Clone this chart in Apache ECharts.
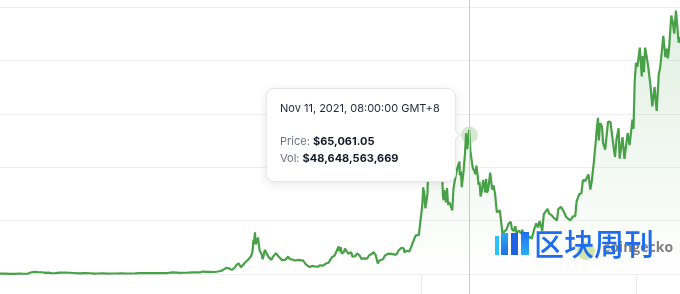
<!DOCTYPE html>
<html><head><meta charset="utf-8">
<script src="https://cdn.jsdelivr.net/npm/echarts@6/dist/echarts.min.js"></script>
<style>html,body{margin:0;padding:0;background:#fff;}#c{width:680px;height:294px;}</style>
</head><body><div id="c"></div>
<script>
const dates = [
'2013-04-28','2013-06-01','2013-07-05','2013-08-01','2013-09-01','2013-10-01','2013-11-01','2013-11-18','2013-11-30','2013-12-10','2013-12-18',
'2014-01-05','2014-02-01','2014-02-25','2014-03-15','2014-04-10','2014-05-01','2014-06-03','2014-07-01','2014-08-01','2014-09-01','2014-10-05','2014-11-12','2014-12-15',
'2015-01-14','2015-02-01','2015-03-10','2015-04-15','2015-05-15','2015-06-15','2015-07-12','2015-08-20','2015-09-15','2015-10-15','2015-11-04','2015-11-15','2015-12-15',
'2016-01-15','2016-02-15','2016-03-15','2016-04-15','2016-05-15','2016-06-17','2016-07-15','2016-08-02','2016-09-01','2016-10-01','2016-11-01','2016-12-01','2016-12-20',
'2017-01-04','2017-01-12','2017-02-01','2017-02-20','2017-03-03','2017-03-24','2017-04-15','2017-05-01','2017-05-15','2017-05-25','2017-06-11','2017-06-20','2017-07-01','2017-07-16','2017-08-01','2017-08-17','2017-09-01','2017-09-14','2017-10-01','2017-10-12','2017-10-20','2017-11-01','2017-11-08','2017-11-12','2017-11-20','2017-11-28','2017-12-01','2017-12-07','2017-12-10','2017-12-17','2017-12-22','2017-12-28',
'2018-01-06','2018-01-12','2018-01-17','2018-01-22','2018-02-01','2018-02-06','2018-02-12','2018-02-20','2018-03-05','2018-03-18','2018-03-25','2018-04-06','2018-04-15','2018-05-05','2018-05-20','2018-06-01','2018-06-15','2018-06-28','2018-07-08','2018-07-17','2018-07-25','2018-08-05','2018-08-14','2018-08-25','2018-09-05','2018-09-10','2018-09-20','2018-10-01','2018-10-15','2018-11-01','2018-11-14','2018-11-20','2018-11-25','2018-12-01','2018-12-15','2018-12-24',
'2019-01-01','2019-01-15','2019-02-07','2019-02-24','2019-03-15','2019-04-02','2019-04-20','2019-05-01','2019-05-14','2019-05-30','2019-06-10','2019-06-26','2019-07-02','2019-07-10','2019-07-17','2019-08-01','2019-08-07','2019-08-29','2019-09-18','2019-09-26','2019-10-15','2019-10-26','2019-11-10','2019-11-25','2019-12-10','2019-12-18',
'2020-01-01','2020-01-15','2020-02-01','2020-02-13','2020-02-28','2020-03-07','2020-03-12','2020-03-20','2020-04-01','2020-04-15','2020-04-30','2020-05-10','2020-05-20','2020-06-01','2020-06-15','2020-07-01','2020-07-15','2020-07-28','2020-08-17','2020-09-01','2020-09-05','2020-09-20','2020-10-08','2020-10-21','2020-11-05','2020-11-18','2020-11-26','2020-12-01','2020-12-10','2020-12-17','2020-12-24',
'2021-01-02','2021-01-08','2021-01-11','2021-01-14','2021-01-22','2021-01-28','2021-02-05','2021-02-09','2021-02-15','2021-02-21','2021-02-28','2021-03-05','2021-03-13','2021-03-18','2021-03-25','2021-04-01','2021-04-14','2021-04-18','2021-04-25','2021-05-03','2021-05-09','2021-05-12','2021-05-19','2021-05-23','2021-05-27','2021-06-08','2021-06-15','2021-06-22','2021-07-01','2021-07-08','2021-07-20','2021-07-28','2021-08-05','2021-08-14','2021-08-22','2021-09-06','2021-09-08','2021-09-15','2021-09-21','2021-09-28','2021-10-03','2021-10-12','2021-10-20','2021-10-27','2021-11-03','2021-11-09','2021-11-11','2021-11-18','2021-11-24','2021-11-28','2021-12-04','2021-12-14','2021-12-20','2021-12-27',
'2022-01-05','2022-01-10','2022-01-17','2022-01-24','2022-02-01','2022-02-10','2022-02-24','2022-03-02','2022-03-07','2022-03-15','2022-03-29','2022-04-11','2022-04-20','2022-04-30','2022-05-12','2022-05-20','2022-06-01','2022-06-13','2022-06-18','2022-07-01','2022-07-15','2022-07-30','2022-08-13','2022-08-20','2022-09-01','2022-09-12','2022-09-20','2022-10-05','2022-10-20','2022-10-29','2022-11-09','2022-11-20','2022-12-01','2022-12-15','2022-12-30',
'2023-01-08','2023-01-15','2023-01-29','2023-02-10','2023-02-20','2023-03-10','2023-03-20','2023-04-01','2023-04-14','2023-04-25','2023-05-10','2023-05-25','2023-06-15','2023-06-25','2023-07-13','2023-07-30','2023-08-17','2023-09-11','2023-09-30','2023-10-15','2023-10-24','2023-11-10','2023-11-25','2023-12-05','2023-12-20',
'2024-01-01','2024-01-11','2024-01-23','2024-02-01','2024-02-15','2024-02-29','2024-03-05','2024-03-14','2024-03-20','2024-03-28','2024-04-10','2024-04-17','2024-05-01','2024-05-20','2024-06-05','2024-06-24','2024-07-05','2024-07-15','2024-07-29','2024-08-05','2024-08-24','2024-09-06','2024-09-27','2024-10-10','2024-10-29','2024-11-05','2024-11-13','2024-11-22','2024-12-01','2024-12-17','2024-12-30',
'2025-01-06','2025-01-13','2025-01-21','2025-01-31','2025-02-10','2025-02-25','2025-03-10','2025-03-25','2025-04-08','2025-04-22','2025-05-01','2025-05-12','2025-05-22','2025-06-05','2025-06-15','2025-06-22','2025-07-01','2025-07-14','2025-07-25','2025-08-03','2025-08-14','2025-08-22','2025-09-01','2025-09-10'
];
const prices = [
135,129,79,105,140,125,205,700,1130,1000,520,
900,820,530,630,360,450,660,640,590,480,320,420,345,
180,225,290,220,237,235,310,230,230,255,400,320,450,
380,400,415,430,455,750,665,540,575,615,730,750,800,
1150,780,985,1060,1280,940,1180,1420,1720,2450,2950,2700,2500,1930,2720,4300,4900,3200,4400,5400,6000,6700,7400,5900,8200,9800,10900,16000,14000,19500,13800,14500,
17100,13500,11000,11400,9100,6900,8500,11300,11500,7900,8700,6600,8000,9800,8400,7500,6500,5900,6700,7300,8200,7000,6200,6700,7300,6300,6400,6600,6400,6350,5600,4500,3900,4200,3250,4000,
3800,3600,3400,4100,3900,4900,5300,5350,8000,8600,7700,12900,10600,12500,9500,10400,11900,9500,10200,8100,8400,9600,8800,7100,7300,6600,
7200,8800,9350,10300,8700,9100,4900,6200,6600,6900,8700,8700,9500,10200,9400,9100,9200,11000,12300,11900,10200,10900,10600,12800,15600,18000,17100,18800,18300,22800,23200,
32200,40600,35500,39200,30800,33300,37500,46500,48500,57500,45200,48500,61000,58500,51800,58800,63500,56200,49000,57000,58200,49500,36700,34600,39300,33600,40200,32500,33500,32800,29800,40000,40800,47100,49300,52600,46300,48100,40700,41000,48200,56000,65900,58500,62900,67500,65061.05,56900,57100,57300,49400,48300,46700,50700,
45900,41800,43100,36300,38700,44000,38300,44400,38100,39300,47400,39500,41500,37700,28900,29200,29800,22400,19000,19300,20800,23700,24400,21100,20100,22400,19000,20300,19100,20800,15900,16300,17000,17400,16500,
17200,20900,23700,21800,24800,20200,28000,28500,30500,28300,27600,26300,25100,30500,31400,29300,26600,25100,27000,27100,34000,37300,37800,44000,43600,
44200,46600,39500,43000,52000,62500,67000,73100,62500,70700,69000,61300,58200,71400,71100,60300,54800,63000,68200,54000,64100,53900,66000,60300,72300,68000,90000,99000,97000,106000,92500,
102000,94500,106000,102000,97500,88700,78500,87500,76300,93500,96500,104000,111500,101500,105500,100900,107000,121000,117600,112500,123300,116900,108300,111000
];
const yTicks = [0, 25000, 50000, 75000, 100000, 125000];
const xTickDates = ['2020-12-29', '2024-11-20'];
const hlDate = '2021-11-11';
const hlPrice = 65061.05;
const hlTitle = 'Nov 11, 2021, 08:00:00 GMT+8';
const hlPriceText = '$65,061.05';
const hlVolText = '$48,648,563,669';

const W = 680, H = 294, gTop = 7, gBottom = 20;
const plotH = H - gTop - gBottom;
const yMax = yTicks[yTicks.length - 1];
const perPx = yMax / plotH;
const fullMin = -gBottom * perPx, fullMax = yMax + gTop * perPx;

const series = dates.map((d, i) => [d, prices[i]]);
const xMin = dates[0], xMax = dates[dates.length - 1];

const chart = echarts.init(document.getElementById('c'), null, {renderer: 'canvas'});
chart.setOption({
  animation: false,
  grid: [
    {left: 0, right: 0, top: 0, bottom: 0},
    {left: 0, right: 0, top: gTop, bottom: gBottom}
  ],
  xAxis: [
    {gridIndex: 0, type: 'time', min: xMin, max: xMax, show: true,
     axisLine: {show: false}, axisTick: {show: false}, axisLabel: {show: false}, splitLine: {show: false},
     axisPointer: {show: true, value: hlDate, status: 'show', type: 'line', triggerTooltip: false,
       lineStyle: {color: '#c9c9c9', width: 1, type: 'solid'}, label: {show: false}}},
    {gridIndex: 1, type: 'time', min: xMin, max: xMax,
     axisLine: {show: false}, axisLabel: {show: false}, splitLine: {show: false},
     axisTick: {show: true, customValues: xTickDates, length: 20, lineStyle: {color: '#ebebeb', width: 1}}}
  ],
  yAxis: [
    {gridIndex: 0, type: 'value', min: fullMin, max: fullMax, show: false, splitLine: {show: false}},
    {gridIndex: 1, type: 'value', min: 0, max: yMax, interval: 25000,
     axisLine: {show: false}, axisTick: {show: false}, axisLabel: {show: false},
     splitLine: {show: true, lineStyle: {color: '#efefef', width: 1}}}
  ],
  tooltip: {
    trigger: 'item', triggerOn: 'none', alwaysShowContent: true, position: 'left',
    backgroundColor: '#ffffff', borderColor: '#e6e6e6', borderWidth: 1,
    padding: [11, 15, 14, 13],
    extraCssText: 'border-radius:8px;box-shadow:0 2px 10px rgba(0,0,0,0.10);',
    formatter: function () {
      return '<div style="font-family:Inter,\'Noto Sans\',sans-serif;font-size:11px;line-height:17px;">' +
        '<div style="color:#1f2937;">' + hlTitle + '</div>' +
        '<div style="height:16px"></div>' +
        '<div><span style="color:#6b7280;">Price: </span><span style="color:#111827;font-weight:700;">' + hlPriceText + '</span></div>' +
        '<div><span style="color:#6b7280;">Vol: </span><span style="color:#111827;font-weight:700;">' + hlVolText + '</span></div>' +
        '</div>';
    }
  },
  series: [
    {type: 'line', xAxisIndex: 0, yAxisIndex: 0, data: series, symbol: 'none', showSymbol: false,
     lineStyle: {color: '#48a048', width: 2.2}, z: 3, silent: true,
     areaStyle: {origin: 0, color: new echarts.graphic.LinearGradient(0, 0, 0, 1, [
       {offset: 0, color: 'rgba(72,160,72,0.24)'}, {offset: 1, color: 'rgba(72,160,72,0.0)'}])}},
    {type: 'scatter', xAxisIndex: 0, yAxisIndex: 0, data: [[hlDate, hlPrice]], symbolSize: 17, z: 2, silent: true,
     itemStyle: {color: 'rgba(140,190,130,0.45)'}, emphasis: {disabled: true}},
    {type: 'scatter', xAxisIndex: 0, yAxisIndex: 0, data: [[hlDate, hlPrice]], symbolSize: 7, z: 1,
     itemStyle: {color: 'rgba(0,0,0,0)'}, emphasis: {disabled: true}}
  ],
  graphic: [
    {type: 'circle', shape: {cx: 586, cy: 251, r: 9}, style: {fill: 'rgba(170,210,100,0.55)'}, z: 50},
    {type: 'text', x: 603, y: 248, z: 50, style: {text: 'coingecko', font: 'bold 14px "Open Sans"', fill: 'rgba(95,95,95,0.8)', verticalAlign: 'middle'}},
    {type: 'rect', shape: {x: 495, y: 236, width: 4, height: 19}, style: {fill: '#2bc3f5'}, z: 60},
    {type: 'rect', shape: {x: 501, y: 233, width: 7, height: 22}, style: {fill: new echarts.graphic.LinearGradient(0,0,0,1,[{offset:0,color:'#2aa8f2'},{offset:1,color:'#1f6fe8'}])}, z: 60},
    {type: 'rect', shape: {x: 511, y: 233, width: 7, height: 22}, style: {fill: '#1e63e2'}, z: 60},
    {type: 'rect', shape: {x: 521, y: 232, width: 8, height: 23}, style: {fill: new echarts.graphic.LinearGradient(0,0,0,1,[{offset:0,color:'#1f6ff0'},{offset:1,color:'#2bb0f2'}])}, z: 60},
    {type: 'text', x: 534, y: 244, z: 60, style: {text: '区块周刊', font: '500 30px "Noto Sans CJK SC"', fill: '#1e6df0', verticalAlign: 'middle'}}
  ]
});
chart.dispatchAction({type: 'showTip', seriesIndex: 2, dataIndex: 0});
</script>
</body></html>
